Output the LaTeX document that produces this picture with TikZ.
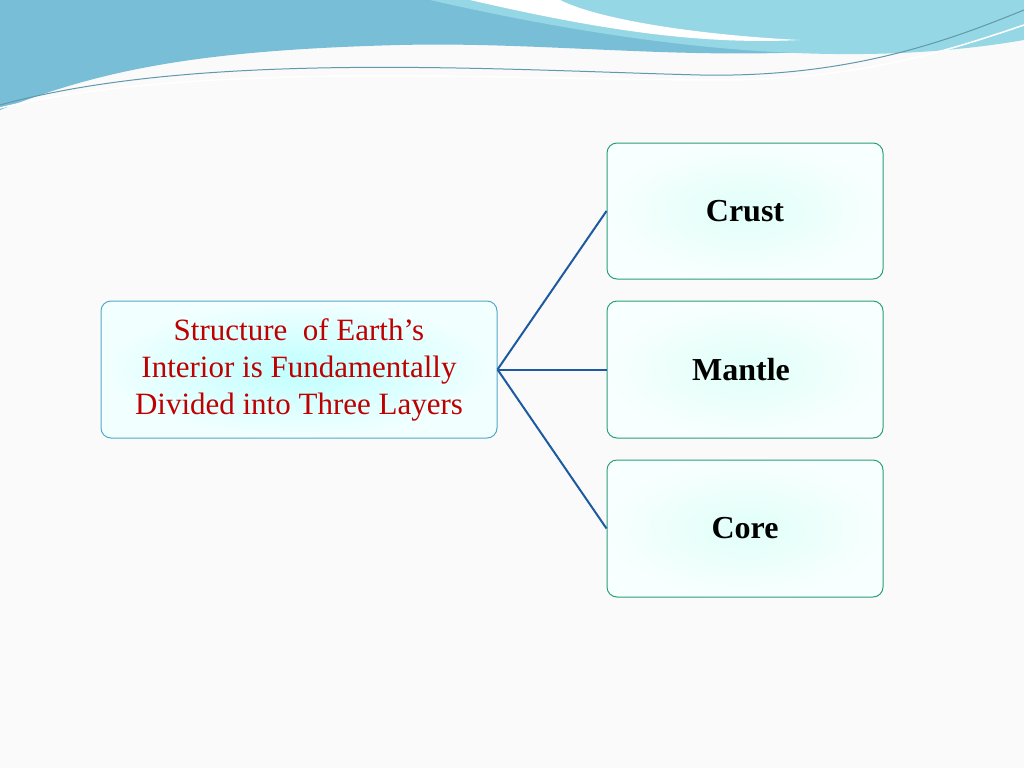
\documentclass[tikz,border=0pt]{standalone}
\usepackage{fontspec}
\setmainfont{Liberation Serif}
\definecolor{hdr}{RGB}{120,190,215}
\definecolor{hdr2}{RGB}{150,215,230}
\definecolor{lbord}{RGB}{80,170,200}
\definecolor{gbord}{RGB}{40,160,120}
\definecolor{lineblue}{RGB}{30,90,160}
\begin{document}
\begin{tikzpicture}[x=1pt,y=-1pt,
  box/.style={draw=#1, line width=1pt, rounded corners=10pt, inner sep=0pt},
  conn/.style={draw=lineblue, line width=2pt}]
\useasboundingbox (0,0) rectangle (1024,768);
\fill[gray!4] (0,0) rectangle (1024,768);
% header waves
\fill[hdr] (0,0) -- (1024,0) -- (1024,20) .. controls (800,80) and (600,40) .. (400,45) .. controls (200,50) and (100,70) .. (0,110) -- cycle;
\fill[hdr2] (430,0) -- (1024,0) -- (1024,40) .. controls (850,70) and (650,50) .. (430,0) -- cycle;
\fill[white] (470,0) .. controls (600,30) and (700,45) .. (800,40) .. controls (700,35) and (600,20) .. (560,0) -- cycle;
\draw[hdr!80!black, line width=1pt] (0,105) .. controls (200,50) and (500,70) .. (700,75) .. controls (850,78) and (950,40) .. (1024,10);
\draw[white, line width=1.5pt] (0,108) .. controls (200,60) and (500,80) .. (720,80) .. controls (860,80) and (950,50) .. (1024,25);
% nodes
\node[box=lbord, inner color=cyan!25, outer color=cyan!5, minimum width=396pt, minimum height=137pt, align=center, text=red!75!black, font=\fontsize{31}{37}\selectfont] (s) at (299,369.5) {Structure\ \ of Earth’s\\Interior is Fundamentally\\Divided into Three Layers};
\tikzset{gbox/.style={box=gbord, inner color=green!22!cyan!12, outer color=green!5!cyan!3, minimum width=276pt, font=\bfseries\fontsize{32}{36}\selectfont}}
\node[gbox, minimum height=136pt] (c) at (745,211) {Crust};
\node[gbox, minimum height=137pt] (m) at (745,369.5) {\hspace*{-8pt}Mantle};
\node[gbox, minimum height=137pt] (k) at (745,528.5) {Core};
\draw[conn] (s.east) -- (c.west);
\draw[conn] (s.east) -- (m.west);
\draw[conn] (s.east) -- (k.west);
\end{tikzpicture}
\end{document}
